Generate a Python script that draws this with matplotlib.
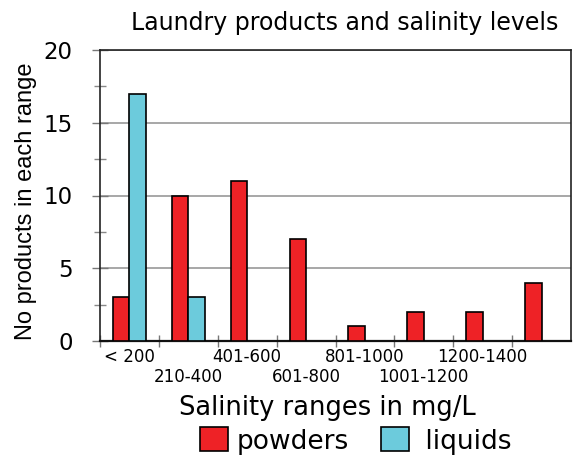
import matplotlib
matplotlib.use("Agg")
import matplotlib.pyplot as plt
import numpy as np
from matplotlib.patches import Patch

plt.rcParams['font.family'] = ['DejaVu Sans']

categories = ["< 200", "210-400", "401-600", "601-800", "801-1000", "1001-1200", "1200-1400", ""]
powders = [3, 10, 11, 7, 1, 2, 2, 4]
liquids = [17, 3, 0, 0, 0, 0, 0, 0]
yticks = [0, 5, 10, 15, 20]
yminor = [2.5, 7.5, 12.5, 17.5]

red = "#ee2226"
blue = "#6ccbdc"

fig = plt.figure(figsize=(5.73, 4.57), dpi=100)
ax = fig.add_axes([100/573, 1-341/457, 471/573, 291/457])

x = np.arange(len(categories))
w = 0.28
ax.bar(x - w/2, powders, w, color=red, edgecolor="black", linewidth=1.2, zorder=3)
lq = [v if v > 0 else np.nan for v in liquids]
ax.bar(x + w/2, lq, w, color=blue, edgecolor="black", linewidth=1.2, zorder=3)

ax.set_xlim(-0.5, len(categories) - 0.5)
ax.set_ylim(0, 20)
ax.set_yticks(yticks)
ax.set_yticks(yminor, minor=True)
ax.set_yticklabels([str(v) for v in yticks], fontsize=16.5)
ax.yaxis.grid(True, which='major', color="#a0a0a0", linewidth=1.3, zorder=0)
ax.tick_params(axis='y', which='major', direction='inout', length=11.5, width=1, color="#777777", pad=14)
ax.tick_params(axis='y', which='minor', direction='inout', length=8, width=1, color="#888888")

ax.set_xticks(np.arange(len(categories)) - 0.5)
ax.set_xticklabels([])
ax.tick_params(axis='x', direction='inout', length=8.6, width=1, color="#777777")
for i, lab in enumerate(categories):
    if not lab:
        continue
    ypix = 357 if i % 2 == 0 else 377
    yoff = -(ypix - 341) / 291
    ax.text(i, yoff, lab, transform=ax.get_xaxis_transform(), ha='center', va='center', fontsize=12)

for s in ax.spines.values():
    s.set_color("#222222")
    s.set_linewidth(1.2)
ax.spines['bottom'].set_linewidth(1.6)
ax.spines['bottom'].set_color("#111111")

fig.text(26/573, 1-201/457, "No products in each range", rotation=90, ha='center', va='center',
         fontsize=17, family='Liberation Sans')
fig.text(345/573, 1-30/457, "Laundry products and salinity levels", ha='center', va='baseline', fontsize=17)
fig.text(327/573, 1-415/457, "Salinity ranges in mg/L", ha='center', va='baseline', fontsize=18.5)

handles = [Patch(facecolor=red, edgecolor='black', linewidth=1.2),
           Patch(facecolor=blue, edgecolor='black', linewidth=1.2)]
fig.legend(handles, ["powders", " liquids"], loc='center', bbox_to_anchor=(356/573, 1-441/457),
           ncol=2, frameon=False, fontsize=19, handlelength=1.06, handleheight=1.02,
           columnspacing=1.25, handletextpad=0.3, borderpad=0, borderaxespad=0)

fig.savefig("out.png", dpi=100)
